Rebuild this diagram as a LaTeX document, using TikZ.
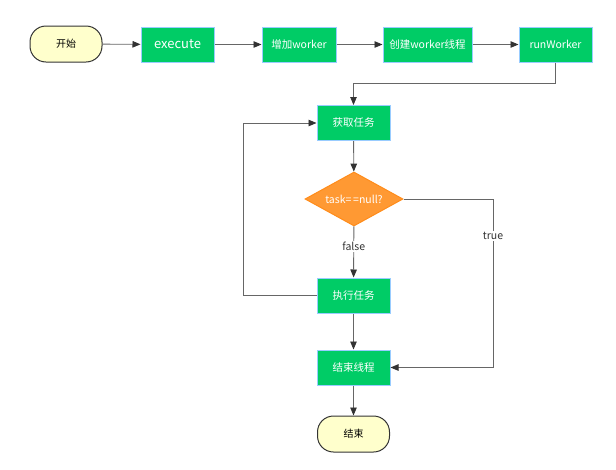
\documentclass[tikz,border=0pt]{standalone}
\usepackage{fontspec}
\setmainfont{Noto Sans CJK SC}
\usetikzlibrary{arrows.meta,shapes.geometric}
\definecolor{boxgreen}{HTML}{00CC66}
\definecolor{boxedge}{HTML}{99CCFF}
\definecolor{termfill}{HTML}{FFFFCC}
\definecolor{termedge}{HTML}{333333}
\definecolor{decfill}{HTML}{FF9933}
\definecolor{decedge}{HTML}{FF8C1A}
\definecolor{linegray}{HTML}{666666}
\definecolor{tipgray}{HTML}{333333}
\definecolor{labgray}{HTML}{333333}
\tikzset{
  procbox/.style={draw=boxedge, line width=1pt, fill=boxgreen, text=white, minimum height=35pt, inner sep=0pt, font=\fontsize{10.5}{12}\selectfont},
  termbox/.style={draw=termedge, line width=1pt, fill=termfill, text=black, rounded corners=16pt, minimum width=72pt, minimum height=36pt, inner sep=0pt, font=\fontsize{10}{12}\selectfont},
  decbox/.style={diamond, draw=decedge, line width=1pt, fill=decfill, text=white, minimum width=98pt, minimum height=54pt, aspect=1.8, inner sep=0pt, font=\fontsize{10.5}{12}\selectfont},
  conn/.style={draw=linegray, line width=0.9pt, -{Triangle[length=8pt,width=6.5pt,fill=tipgray,color=tipgray]}},
  lab/.style={fill=white, text=labgray, inner sep=1pt, font=\fontsize{10.5}{12}\selectfont}
}
\begin{document}
\begin{tikzpicture}[x=1pt,y=-1pt]
\useasboundingbox (0,0) rectangle (616,469);
\node[termbox] (start) at (66,44) {开始};
\node[procbox, minimum width=73pt, font=\fontsize{13}{15}\selectfont] (exec) at (177.5,44.5) {execute};
\node[procbox, minimum width=74pt] (add) at (299,44.5) {增加worker};
\node[procbox, minimum width=89pt] (create) at (427.5,44.5) {创建worker线程};
\node[procbox, minimum width=73pt] (run) at (555.5,44.5) {runWorker};
\node[procbox, minimum width=73pt] (get) at (353.5,123) {获取任务};
\node[decbox] (dec) at (354,199) {task=\,=null?};
\node[procbox, minimum width=73pt] (do) at (353.5,295.5) {执行任务};
\node[procbox, minimum width=73pt] (endt) at (353.5,367.5) {结束线程};
\node[termbox] (end) at (353.5,434) {结束};
\coordinate (c1) at (555.5,83);
\coordinate (c2) at (353.5,83);
\coordinate (c3) at (243,295.5);
\coordinate (c4) at (243,123);
\coordinate (c5) at (493,199);
\coordinate (c6) at (493,367.5);

\draw[conn] (start) -- (exec);
\draw[conn] (exec) -- (add);
\draw[conn] (add) -- (create);
\draw[conn] (create) -- (run);
\draw[conn] (run.south) -- (c1) -- (c2) -- (get.north);
\draw[conn] (get) -- (dec);
\draw[conn] (dec) -- node[lab, pos=0.39] {false} (do);
\draw[conn] (do) -- (endt);
\draw[conn] (endt) -- (end);
\draw[conn] (do.west) -- (c3) -- (c4) -- (get.west);
\draw[conn] (dec.east) -- (c5) -- node[lab, pos=0.22] {true} (c6) -- (endt.east);
\end{tikzpicture}
\end{document}
